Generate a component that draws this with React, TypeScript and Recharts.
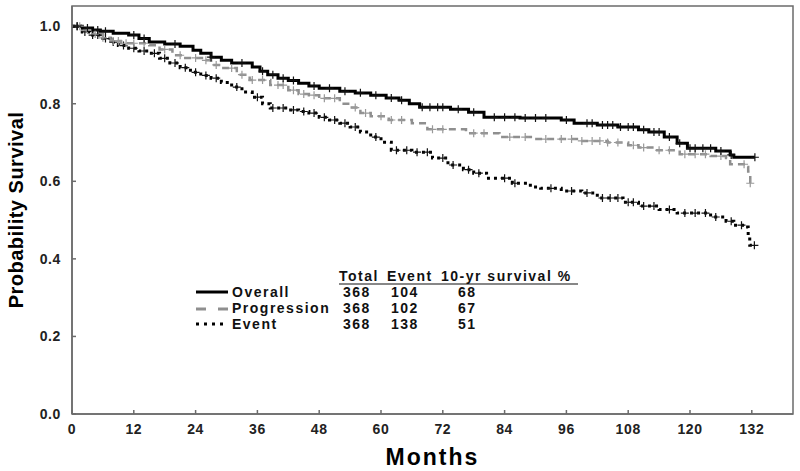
import { ComposedChart, Line, Scatter, XAxis, YAxis, ReferenceArea, Label } from "recharts";

type Step = [number, number];

const FONT = '"Liberation Sans", Arial, sans-serif';
const AXIS_GREY = "#6b6b6b";

const MONTH_TICKS = [0, 12, 24, 36, 48, 60, 72, 84, 96, 108, 120, 132];
const SURV_TICKS = [0, 0.2, 0.4, 0.6, 0.8, 1.0];
const X_MAX = 140;
const Y_MAX = 1.052;

// Kaplan-Meier steps: [month, survival]
const overallSteps: Step[] = [
  [0, 1.0], [2, 0.995], [4, 0.99], [5.5, 0.987], [8, 0.982], [11, 0.977], [13, 0.968], [15, 0.959],
  [18, 0.954], [21, 0.948], [23.5, 0.938], [25, 0.93], [27, 0.92], [29, 0.912], [31, 0.905], [35, 0.895],
  [36.5, 0.884], [38, 0.875], [40, 0.866], [42, 0.86], [44, 0.853], [46, 0.846], [48, 0.84], [52, 0.832],
  [55, 0.828], [58, 0.822], [61, 0.815], [63.5, 0.809], [65.5, 0.8], [67.5, 0.791], [73.5, 0.786], [77, 0.778],
  [80, 0.765], [87, 0.763], [95, 0.758], [97.5, 0.75], [102, 0.745], [106, 0.74], [110, 0.733], [112, 0.727],
  [115, 0.714], [117.5, 0.698], [119.5, 0.685], [125, 0.678], [127.8, 0.668], [128.5, 0.662], [132.6, 0.662],
];

const progressionSteps: Step[] = [
  [0, 1.0], [2, 0.99], [4, 0.98], [6, 0.97], [7.5, 0.962], [9.5, 0.956], [15, 0.951], [17, 0.94],
  [19.5, 0.925], [22, 0.918], [25.5, 0.912], [27, 0.9], [29, 0.892], [32, 0.875], [34.5, 0.861], [38.5, 0.848],
  [42, 0.835], [44, 0.825], [46, 0.822], [48, 0.814], [52, 0.8], [54, 0.79], [56, 0.776], [58, 0.768],
  [61.5, 0.758], [66, 0.75], [69, 0.734], [76.5, 0.724], [83, 0.714], [89.5, 0.709], [98.5, 0.704], [104, 0.7],
  [108, 0.693], [110, 0.687], [113, 0.68], [118, 0.67], [124, 0.665], [127, 0.66], [127.8, 0.644], [130.7, 0.637],
  [131.3, 0.625], [131.7, 0.595],
];

const eventSteps: Step[] = [
  [0, 1.0], [2, 0.985], [3.5, 0.977], [5.5, 0.968], [7.5, 0.959], [9, 0.95], [11, 0.943], [13, 0.936],
  [15, 0.93], [17, 0.917], [19, 0.905], [21, 0.893], [23, 0.881], [25, 0.873], [27, 0.866], [29, 0.855],
  [31, 0.843], [33, 0.83], [35, 0.817], [37, 0.8], [38.5, 0.789], [42, 0.784], [44, 0.78], [46, 0.776],
  [48, 0.765], [50, 0.758], [52, 0.75], [54, 0.74], [56, 0.727], [58, 0.714], [60, 0.701], [62, 0.68],
  [66, 0.675], [70, 0.66], [73, 0.642], [76, 0.63], [78, 0.621], [80.5, 0.608], [85.5, 0.595], [89, 0.585],
  [91, 0.582], [95, 0.575], [99, 0.57], [102, 0.557], [107, 0.546], [110, 0.536], [114, 0.527], [117.5, 0.518],
  [124, 0.508], [127, 0.497], [128.5, 0.487], [130.8, 0.482], [131.3, 0.461], [131.6, 0.435], [132.6, 0.435],
];

// censored observations (months)
const overallCensor = [
  1, 3, 5, 6.5, 12, 14, 20, 27, 33, 37, 39, 41, 43, 47, 50, 53, 56, 59, 62, 64, 68, 69.5, 71, 72, 75, 78,
  82, 84, 86, 88, 90, 92, 96, 100, 101, 103, 104, 105, 106.5, 108, 109, 111, 113, 114, 116, 118, 120, 121,
  122.5, 124, 126, 128, 132.6,
];
const progressionCensor = [
  1.5, 3, 4.5, 6, 8, 9, 10.5, 12, 14, 18, 21, 24, 26, 28, 31, 33, 35, 37, 40, 41, 43, 45, 47, 49, 51, 55,
  57, 60, 62, 64, 70, 72, 78, 80, 85, 88, 92, 95, 97, 99, 101, 102.5, 104, 106, 109, 111, 114, 116, 119,
  121, 123, 126, 130.5, 131.7,
];
const eventCensor = [
  1, 2.5, 4, 5, 6.5, 8, 10, 12, 14, 16, 18, 20, 22, 24, 26, 28, 32, 36, 39, 41, 43, 45, 47, 49, 51, 53,
  55, 59, 63, 65, 67, 69, 72, 74, 77, 79, 84, 86, 93, 97, 100, 103, 104.5, 106, 108, 109, 111, 113, 116,
  119, 121, 123, 125, 128, 130, 132.5,
];

const LEGEND_HEAD = ["Total", "Event", "10-yr survival %"];
const LEGEND_NAMES = ["Overall", "Progression", "Event"];
const LEGEND_TOTAL = [368, 368, 368];
const LEGEND_EVENTS = [104, 102, 138];
const LEGEND_SURV10 = [68, 67, 51];

function survAt(steps: Step[], t: number) {
  let s = steps[0][1];
  for (const [m, v] of steps) {
    if (m <= t) s = v;
    else break;
  }
  return s;
}

const toRows = (steps: Step[]) => steps.map(([t, s]) => ({ t, s }));
const toMarks = (steps: Step[], censor: number[]) => censor.map(t => ({ t, s: survAt(steps, t) }));

const crossShape = (color: string) => (p: any) => {
  const { cx, cy } = p;
  if (cx == null || cy == null) return <g />;
  return (
    <path d={`M${cx - 4},${cy}H${cx + 4}M${cx},${cy - 4}V${cy + 4}`} stroke={color} strokeWidth={1.2} fill="none" />
  );
};

const tickStyle = { fontSize: 14, fontWeight: "bold", fill: "#222", fontFamily: FONT, letterSpacing: 0.6 };

function LegendTable() {
  const text = { fontFamily: FONT, fontSize: 14, fontWeight: "bold", fill: "#111", letterSpacing: 1.5 } as const;
  const rowY = [297, 313, 329];
  return (
    <svg width={800} height={471} style={{ position: "absolute", left: 0, top: 0, pointerEvents: "none" }}>
      <text x={339} y={281} {...text}>{LEGEND_HEAD[0]}</text>
      <text x={387} y={281} {...text}>{LEGEND_HEAD[1]}</text>
      <text x={441} y={281} {...text}>{LEGEND_HEAD[2]}</text>
      <line x1={339} x2={578} y1={284} y2={284} stroke="#111" strokeWidth={1.2} />
      <line x1={196} x2={228} y1={292} y2={292} stroke="#000" strokeWidth={3} />
      <line x1={196} x2={228} y1={309} y2={309} stroke="#8f8f8f" strokeWidth={3} strokeDasharray="10 12" />
      <line x1={196} x2={228} y1={324} y2={324} stroke="#000" strokeWidth={3} strokeDasharray="3 5" />
      {LEGEND_NAMES.map((n, i) => (
        <g key={n}>
          <text x={232} y={rowY[i]} {...text}>{n}</text>
          <text x={343} y={rowY[i]} {...text}>{LEGEND_TOTAL[i]}</text>
          <text x={391} y={rowY[i]} {...text}>{LEGEND_EVENTS[i]}</text>
          <text x={458} y={rowY[i]} {...text}>{LEGEND_SURV10[i]}</text>
        </g>
      ))}
    </svg>
  );
}

export default function App() {
  return (
    <div style={{ position: "absolute", left: 0, top: 0, width: 800, height: 471, background: "#fff" }}>
      <ComposedChart width={800} height={471} margin={{ top: 6, right: 7, bottom: 0, left: 0 }}>
        <XAxis
          type="number"
          dataKey="t"
          domain={[0, X_MAX]}
          ticks={MONTH_TICKS}
          interval={0}
          allowDataOverflow
          height={57}
          tickSize={-4}
          tickMargin={14}
          stroke={AXIS_GREY}
          strokeWidth={1.5}
          tick={tickStyle}
        >
          <Label
            content={(p: any) => {
              const vb = p.viewBox;
              return (
                <text x={vb.x + vb.width / 2} y={465} textAnchor="middle" fontFamily={FONT} fontSize={23}
                  fontWeight="bold" letterSpacing={2} fill="#000">Months</text>
              );
            }}
          />
        </XAxis>
        <YAxis
          type="number"
          dataKey="s"
          domain={[0, Y_MAX]}
          ticks={SURV_TICKS}
          interval={0}
          allowDataOverflow
          width={72}
          tickSize={-4}
          tickMargin={15}
          stroke={AXIS_GREY}
          strokeWidth={1.5}
          tick={tickStyle}
          tickFormatter={(v: number) => v.toFixed(1)}
        >
          <Label
            content={(p: any) => {
              const vb = p.viewBox;
              const cy = vb.y + vb.height / 2;
              return (
                <text x={23} y={cy} transform={`rotate(-90, 23, ${cy})`} textAnchor="middle" fontFamily={FONT}
                  fontSize={20} fontWeight="bold" letterSpacing={0.5} fill="#000">Probability Survival</text>
              );
            }}
          />
        </YAxis>
        <ReferenceArea x1={0} x2={X_MAX} y1={0} y2={Y_MAX} fill="none" stroke={AXIS_GREY} strokeWidth={1.5} ifOverflow="visible" />

        <Line data={toRows(eventSteps)} dataKey="s" type="stepAfter" stroke="#000" strokeWidth={3}
          strokeDasharray="3 4" dot={false} isAnimationActive={false} />
        <Scatter data={toMarks(eventSteps, eventCensor)} dataKey="s" shape={crossShape("#111")} isAnimationActive={false} />

        <Line data={toRows(progressionSteps)} dataKey="s" type="stepAfter" stroke="#8f8f8f" strokeWidth={2.5}
          strokeDasharray="7 5" dot={false} isAnimationActive={false} />
        <Scatter data={toMarks(progressionSteps, progressionCensor)} dataKey="s" shape={crossShape("#999")} isAnimationActive={false} />

        <Line data={toRows(overallSteps)} dataKey="s" type="stepAfter" stroke="#000" strokeWidth={3}
          dot={false} isAnimationActive={false} />
        <Scatter data={toMarks(overallSteps, overallCensor)} dataKey="s" shape={crossShape("#111")} isAnimationActive={false} />
      </ComposedChart>
      <LegendTable />
    </div>
  );
}
